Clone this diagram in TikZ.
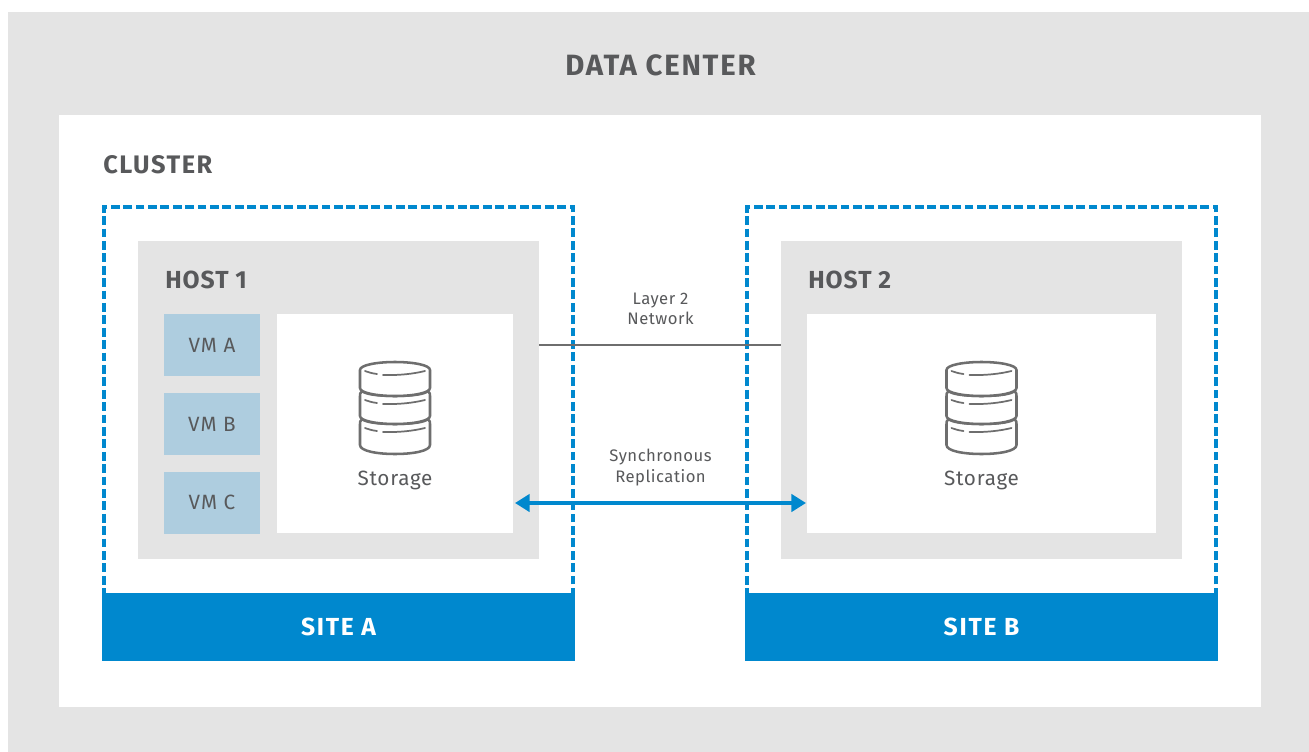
\documentclass[tikz,border=0pt]{standalone}
\usepackage{fontspec}
\setmainfont{Fira Sans}
\newfontfamily\titlefam[LetterSpace=6]{Fira Sans}
\newfontfamily\clusterfam[LetterSpace=6]{Fira Sans}
\newfontfamily\hostfam[LetterSpace=4]{Fira Sans}
\newfontfamily\sitefam[LetterSpace=7]{Fira Sans}
\newfontfamily\bodyfam[LetterSpace=3.6]{Fira Sans}
\newfontfamily\vmfam[LetterSpace=5]{Fira Sans}
\newfontfamily\smallfam[LetterSpace=3]{Fira Sans}
\usetikzlibrary{arrows.meta}
\definecolor{grayband}{HTML}{E4E4E4}
\definecolor{redblue}{HTML}{0088CE}
\definecolor{vmblue}{HTML}{AECDDF}
\definecolor{inktext}{HTML}{58595B}
\definecolor{iconline}{HTML}{6E6E6E}
\tikzset{
  pxbox/.style n args={2}{inner sep=0pt,outer sep=0pt,minimum width=#1*0.75pt,minimum height=#2*0.75pt},
  graybox/.style={fill=grayband},
  whitebox/.style={fill=white},
  vmbox/.style={fill=vmblue,text=inktext,font=\vmfam\fontsize{15.5}{17}\selectfont},
  sitebar/.style={fill=redblue,text=white,font=\sitefam\fontsize{18.5}{20}\selectfont\bfseries},
  sitedash/.style={draw=redblue,line width=2.5pt,dash pattern=on 6.6pt off 2.7pt},
  dctext/.style={text=inktext,font=\titlefam\fontsize{22}{26}\selectfont\bfseries,inner sep=0pt},
  headtext/.style={text=inktext,font=\clusterfam\fontsize{19}{22}\selectfont\bfseries,inner sep=0pt},
  hosttext/.style={text=inktext,font=\hostfam\fontsize{18.5}{20}\selectfont\bfseries,inner sep=0pt},
  bodytext/.style={text=inktext,font=\bodyfam\fontsize{15.5}{17}\selectfont,inner sep=0pt},
  smalltext/.style={text=inktext,font=\smallfam\fontsize{12.5}{15.2}\selectfont,inner sep=0pt,align=center},
  l2line/.style={draw=iconline,line width=2pt},
  synclink/.style={draw=redblue,line width=2.6pt,shorten <=1.5pt,shorten >=0.75pt,{Triangle[length=11pt,width=13pt]}-{Triangle[length=11pt,width=13pt]}},
  iconstroke/.style={draw=iconline,line width=1.9pt,line cap=round,line join=round,fill=white},
  iconthin/.style={draw=iconline,line width=1.3pt,line cap=round},
  dbicon/.pic={
    \path[iconstroke] (-33,57) .. controls (-30,60) and (-18,62) .. (0,62) .. controls (18,62) and (30,60) .. (33,57) .. controls (35,59) and (35,60) .. (35,62) -- (35,83) .. controls (35,89) and (18,92) .. (0,92) .. controls (-18,92) and (-35,89) .. (-35,83) -- (-35,62) .. controls (-35,60) and (-35,59) .. (-33,57) -- cycle;
    \path[iconstroke] (-33,29) .. controls (-30,32) and (-18,34) .. (0,34) .. controls (18,34) and (30,32) .. (33,29) .. controls (35,31) and (35,32) .. (35,34) -- (35,54) .. controls (35,59) and (18,62) .. (0,62) .. controls (-18,62) and (-35,59) .. (-35,54) -- (-35,34) .. controls (-35,32) and (-35,31) .. (-33,29) -- cycle;
    \path[iconstroke] (-35,8) .. controls (-35,3) and (-18,0) .. (0,0) .. controls (18,0) and (35,3) .. (35,8) -- (35,26) .. controls (35,31) and (18,34) .. (0,34) .. controls (-18,34) and (-35,31) .. (-35,26) -- cycle;
    \foreach \d in {0,29,57}{
      \draw[iconthin] (-30,{9+\d}) .. controls (-27,{10+\d}) and (-23,{11.5+\d}) .. (-18,{12+\d});
      \draw[iconthin] (-12,{13+\d}) .. controls (3,{13.5+\d}) and (18,{12+\d}) .. (30,{9+\d});
    }
  }
}
\begin{document}
\begin{tikzpicture}[x=0.75pt,y=-0.75pt]
\useasboundingbox (0,0) rectangle (1309,752);
\fill[white] (0,0) rectangle (1309,752);
% data center and cluster
\node[graybox,pxbox={1301}{740}] (dc) at (658.5,382) {};
\node[whitebox,pxbox={1202}{592}] (cluster) at (660,411) {};
\node[dctext] (dctitle) at (660.5,65) {DATA CENTER};
\node[headtext,anchor=west] (clustertitle) at (103,165) {CLUSTER};
% sites
\node[sitedash,pxbox={469}{392}] (dashA) at (338.5,403) {};
\node[sitedash,pxbox={469}{392}] (dashB) at (981.5,403) {};
\node[sitebar,pxbox={473}{68}] (siteA) at (338.5,627) {SITE A};
\node[sitebar,pxbox={473}{68}] (siteB) at (981.5,627) {SITE B};
% hosts
\node[graybox,pxbox={401}{318}] (host1) at (338.5,400) {};
\node[graybox,pxbox={401}{318}] (host2) at (981.5,400) {};
\node[hosttext,anchor=west] (host1title) at (165,280) {HOST 1};
\node[hosttext,anchor=west] (host2title) at (808,280) {HOST 2};
% VMs
\node[vmbox,pxbox={96}{62}] (vma) at (212,345) {VM A};
\node[vmbox,pxbox={96}{62}] (vmb) at (212,424) {VM B};
\node[vmbox,pxbox={96}{62}] (vmc) at (212,502.5) {VM C};
% storage
\node[whitebox,pxbox={236}{219}] (storeA) at (395,423.5) {};
\node[whitebox,pxbox={349}{219}] (storeB) at (981.5,423.5) {};
\pic at (395,362) {dbicon};
\pic at (981.5,362) {dbicon};
\node[bodytext] (storeAlabel) at (395,480) {Storage};
\node[bodytext] (storeBlabel) at (981.5,480) {Storage};
% links
\coordinate (l2y) at (660,345);
\coordinate (syncy) at (660,503);
\draw[l2line] (host1.east |- l2y) -- (host2.west |- l2y);
\draw[synclink] (storeA.east |- syncy) -- (storeB.west |- syncy);
\node[smalltext] (l2label) at (660.5,309) {Layer 2\\Network};
\node[smalltext] (synclabel) at (660.5,467.5) {Synchronous\\Replication};
\end{tikzpicture}
\end{document}
